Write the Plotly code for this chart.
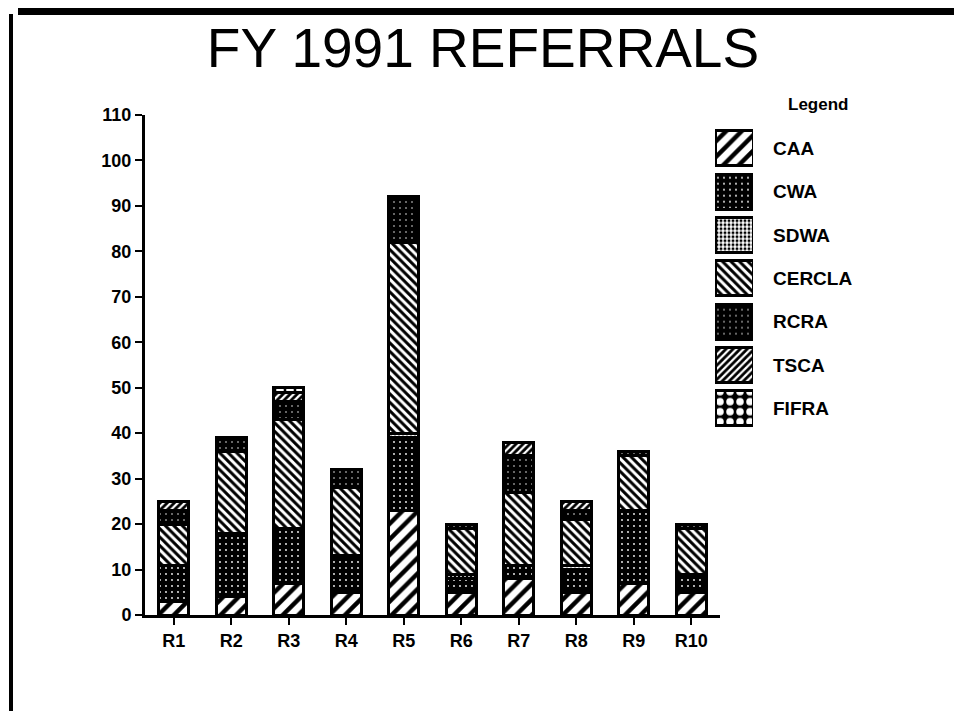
import plotly.graph_objects as go

regions = ["R1", "R2", "R3", "R4", "R5", "R6", "R7", "R8", "R9", "R10"]
series_names = ["CAA", "CWA", "SDWA", "CERCLA", "RCRA", "TSCA", "FIFRA"]
CAA = [3, 4, 7, 5, 23, 5, 8, 5, 7, 5]
CWA = [8, 14, 12, 8, 16, 3, 3, 5, 16, 4]
SDWA = [0, 0, 0, 0, 1, 1, 0, 1, 0, 0]
CERCLA = [9, 18, 24, 15, 42, 10, 16, 10, 12, 10]
RCRA = [3, 3, 4, 4, 10, 1, 8, 2, 1, 1]
TSCA = [2, 0, 2, 0, 0, 0, 3, 2, 0, 0]
FIFRA = [0, 0, 1, 0, 0, 0, 0, 0, 0, 0]
y_ticks = list(range(0, 111, 10))

series_values = [CAA, CWA, SDWA, CERCLA, RCRA, TSCA, FIFRA]

patterns = {
    "CAA": dict(shape="/", bgcolor="white", fgcolor="black", fgopacity=1, size=11, solidity=0.4),
    "CWA": dict(shape=".", bgcolor="black", fgcolor="white", fgopacity=1, size=6, solidity=0.07),
    "SDWA": dict(shape=".", bgcolor="white", fgcolor="black", fgopacity=1, size=4, solidity=0.45),
    "CERCLA": dict(shape="\\", bgcolor="white", fgcolor="black", fgopacity=1, size=6, solidity=0.5),
    "RCRA": dict(shape=".", bgcolor="black", fgcolor="white", fgopacity=1, size=6, solidity=0.05),
    "TSCA": dict(shape="/", bgcolor="white", fgcolor="black", fgopacity=1, size=5, solidity=0.55),
    "FIFRA": dict(shape=".", bgcolor="black", fgcolor="white", fgopacity=1, size=10, solidity=0.45),
}

# page offset from the browser's default body margin
OFF = 8
W, H = 954, 703


def fx(px):
    return (px - OFF) / W


def fy(py):
    return 1 - (py - OFF) / H


font_family = "Liberation Sans, Arial, sans-serif"

fig = go.Figure()
for name, vals in zip(series_names, series_values):
    p = patterns[name]
    fig.add_trace(go.Bar(
        x=regions,
        y=[v if v else None for v in vals],
        name=name,
        width=0.52,
        marker=dict(color=p["bgcolor"], pattern=p, line=dict(color="black", width=3)),
        showlegend=False,
    ))
    # legend swatch
    fig.add_trace(go.Bar(
        x=[1], y=[name], orientation="h", xaxis="x2", yaxis="y2",
        width=0.81,
        marker=dict(color=p["bgcolor"], pattern=p, line=dict(color="black", width=3)),
        showlegend=False,
    ))

fig.update_layout(
    width=W, height=H,
    margin=dict(l=0, r=0, t=0, b=0),
    paper_bgcolor="white", plot_bgcolor="white",
    barmode="stack",
    font=dict(family=font_family, color="black"),
    title=dict(text="FY 1991 REFERRALS", x=fx(483), xanchor="center",
               y=fy(48), yanchor="middle",
               font=dict(size=55, family=font_family, color="black")),
    xaxis=dict(
        domain=[fx(145), fx(720)], range=[-0.5, 9.5],
        showline=True, linecolor="black", linewidth=3,
        ticks="outside", ticklen=7, tickwidth=2, tickcolor="black",
        showgrid=False, zeroline=False,
        tickfont=dict(size=18, weight="bold", family=font_family),
        automargin=False,
    ),
    yaxis=dict(
        domain=[fy(615), fy(115)], range=[0, 110],
        tickvals=y_ticks,
        showline=True, linecolor="black", linewidth=3,
        ticks="outside", ticklen=7, tickwidth=2, tickcolor="black",
        showgrid=False, zeroline=False,
        tickfont=dict(size=18, weight="bold", family=font_family),
        automargin=False,
    ),
    xaxis2=dict(
        domain=[fx(715), fx(753)], range=[0, 1], anchor="y2",
        visible=False, fixedrange=True,
    ),
    yaxis2=dict(
        domain=[fy(430), fy(126.7)], anchor="x2",
        type="category", categoryorder="array", categoryarray=series_names,
        range=[6.5, -0.5], side="right",
        showline=False, showgrid=False, zeroline=False, ticks="",
        ticklabelstandoff=19,
        tickfont=dict(size=19, weight="bold", family=font_family),
        automargin=False,
    ),
    annotations=[dict(
        text="Legend", xref="paper", yref="paper",
        x=fx(818), y=fy(105), xanchor="center", yanchor="middle",
        showarrow=False, font=dict(size=17, weight="bold", family=font_family),
    )],
    shapes=[
        dict(type="rect", xref="paper", yref="paper",
             x0=fx(18), x1=1, y0=fy(15), y1=1,
             fillcolor="black", line=dict(width=0)),
        dict(type="line", xref="paper", yref="paper",
             x0=fx(11), x1=fx(11), y0=0, y1=fy(14),
             line=dict(color="black", width=4)),
    ],
)

fig.write_html("out.html")
